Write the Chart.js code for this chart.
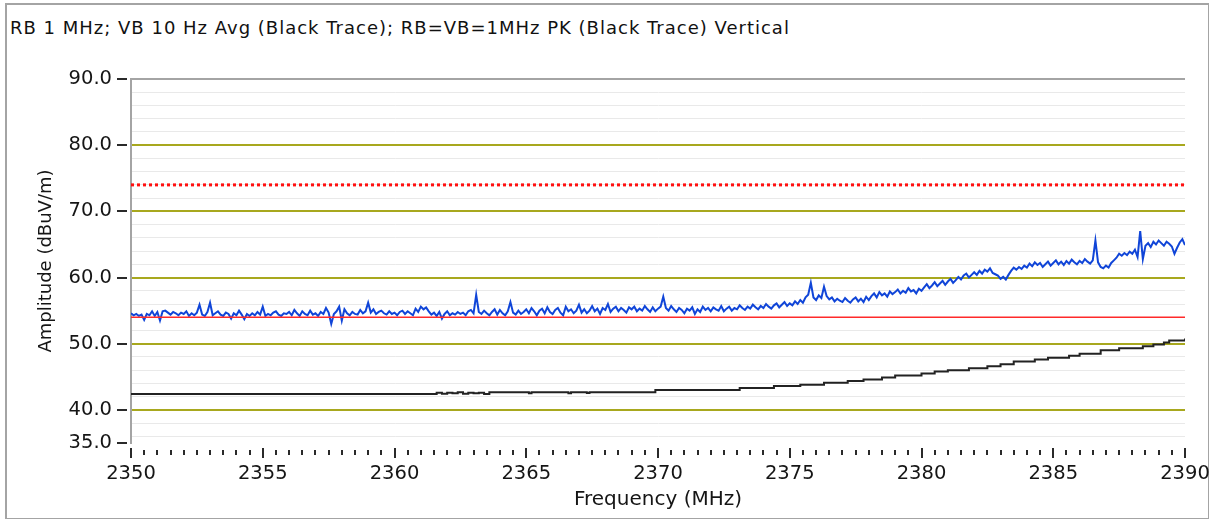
<!DOCTYPE html>
<html>
<head>
<meta charset="utf-8">
<script src="https://cdn.jsdelivr.net/npm/chart.js@4.4.0/dist/chart.umd.min.js"></script>
<style>
  html, body { margin: 0; padding: 0; background: #fff; }
  #wrap { position: relative; width: 1214px; height: 521px; overflow: hidden; background: #fff; }
  #frame { position: absolute; left: 5px; top: 3px; width: 1204px; height: 516px; border: 2px solid #a4a4a4; border-right-width: 1px; border-bottom-width: 1px; box-sizing: border-box; }
  #title { position: absolute; left: 10px; top: 17px; font: 18px "DejaVu Sans"; letter-spacing: 1px; color: #111; white-space: nowrap; }
  canvas { position: absolute; left: 0; top: 0; }
</style>
</head>
<body>
<div id="wrap">
  <div id="frame"></div>
  <div id="title">RB 1 MHz; VB 10 Hz Avg (Black Trace); RB=VB=1MHz PK (Black Trace) Vertical</div>
  <canvas id="c" width="1214" height="521" style="width:1214px;height:521px"></canvas>
</div>
<script>
// Frequency axis (MHz)
const freqMin = 2350;
const freqMax = 2390;
const xLabelValues = [2350, 2355, 2360, 2365, 2370, 2375, 2380, 2385, 2390];
const xMinorStep = 0.5;

// Amplitude axis (dBuV/m)
const ampMin = 35;
const ampMax = 90;
const yLabelValues = [35, 40, 50, 60, 70, 80, 90];
const yMajorGrid = [40, 50, 60, 70, 80];
const yMinorStep = 2;

// Limit lines
const peakLimit = 74;
const avgLimit = 54;

// Peak sweep (blue), sampled every 0.1 MHz from 2350 MHz
const peakStart = 2350;
const peakStep = 0.1;
const peakValues = [
  54.6,54.3,54.5,54.2,54.4,53.6,54.5,54.3,54.9,54.2,
  54.8,53.5,54.9,55.0,54.7,54.4,54.8,54.6,54.3,54.7,
  54.5,54.9,54.2,54.6,54.3,54.7,55.9,54.4,54.2,54.8,
  56.2,54.3,54.6,54.9,54.4,54.2,54.7,54.5,53.8,54.6,
  54.3,55.0,54.4,53.7,54.5,54.2,54.6,54.3,54.8,54.4,
  55.6,54.2,54.5,54.3,54.7,54.9,54.4,54.2,54.6,54.5,
  54.8,54.3,55.1,54.6,54.2,54.9,54.5,54.3,55.0,54.4,
  54.6,54.2,54.8,54.5,55.4,54.7,53.0,54.5,54.9,55.6,
  53.5,55.2,54.6,54.3,54.8,54.5,54.4,55.1,54.6,54.9,
  56.2,54.7,55.2,54.5,54.8,55.0,54.6,54.4,54.9,54.5,
  54.7,54.3,54.8,55.0,54.5,54.9,54.6,54.3,55.3,54.8,
  55.6,55.2,55.5,54.9,54.4,54.7,54.2,54.8,53.8,54.5,
  54.9,54.3,54.6,54.4,54.8,54.5,54.7,54.3,54.9,55.1,
  54.6,57.4,54.8,54.5,55.0,54.6,54.3,54.8,55.2,54.4,
  55.1,54.6,54.3,54.9,56.3,54.7,54.4,55.0,54.5,54.8,
  55.2,54.6,55.4,54.9,54.3,55.0,55.3,54.6,55.5,54.8,
  54.5,55.1,55.4,54.7,54.3,55.6,54.9,55.2,54.6,55.0,
  55.9,54.7,55.2,54.6,55.0,55.7,54.9,55.3,54.5,55.4,
  55.1,56.0,54.8,55.3,55.6,54.9,55.4,55.1,54.7,55.5,
  55.2,55.6,54.9,55.3,55.0,55.7,55.2,54.8,55.5,54.9,
  55.3,55.6,57.1,55.4,55.0,55.7,55.2,54.8,55.4,55.1,
  54.6,55.3,55.0,55.5,54.5,55.2,54.8,55.6,55.1,55.4,
  54.9,55.5,55.2,55.0,55.7,54.9,55.3,55.6,55.0,55.4,
  55.2,55.8,55.4,55.1,55.6,55.3,55.9,55.5,55.2,55.7,
  55.4,56.0,55.6,55.3,55.8,56.1,55.5,55.9,56.3,55.7,
  56.1,55.8,56.4,56.0,56.6,56.2,57.0,57.4,59.2,57.0,
  56.6,57.3,56.9,58.6,57.2,56.7,57.0,56.4,56.8,56.5,
  56.3,56.9,56.5,56.2,56.7,57.0,56.4,56.8,56.3,57.1,
  56.6,57.2,57.6,57.0,57.8,57.3,57.6,57.1,57.9,57.5,
  57.8,58.2,57.6,58.0,57.7,58.4,57.9,58.1,57.6,58.3,
  58.0,58.5,59.0,58.4,58.8,59.3,58.7,59.1,59.5,58.9,
  59.4,59.8,59.2,59.6,60.1,59.7,60.3,60.6,60.0,60.4,
  60.8,60.4,61.0,60.6,61.2,60.9,61.4,60.7,60.5,60.3,
  59.8,60.1,59.7,60.4,61.0,61.5,61.2,61.6,61.3,61.8,
  61.5,62.1,61.7,62.3,61.9,62.2,61.6,62.0,62.4,61.8,
  62.2,62.6,62.0,62.4,61.9,62.5,62.1,62.7,62.3,62.0,
  62.5,62.2,62.8,62.4,62.1,62.6,65.6,62.3,61.6,61.4,
  61.8,61.5,62.2,62.6,63.0,63.6,63.3,63.7,63.4,63.9,
  63.6,64.2,63.1,67.0,62.8,64.8,65.2,64.6,65.4,65.0,
  65.6,65.2,64.8,65.4,65.1,64.7,63.6,64.5,65.3,65.8,
  64.9
];

// Average sweep (black), step corners
const avgFreqs = [
  2350.0, 2361.4, 2361.6, 2361.8, 2362.0, 2362.2, 2362.4, 2362.6, 2362.8, 2363.0,
  2363.2, 2363.4, 2363.6, 2365.1, 2365.2, 2366.6, 2366.7, 2367.3, 2367.4, 2369.9,
  2373.1, 2374.4, 2375.4, 2376.3, 2377.2, 2377.8, 2378.5, 2379.0, 2380.0, 2380.5,
  2381.0, 2381.8, 2382.5, 2383.0, 2383.5, 2384.3, 2384.8, 2385.6, 2386.0, 2386.8,
  2387.5, 2388.4, 2388.8, 2389.2, 2389.4, 2390.0
];
const avgValues = [
  42.4, 42.4, 42.6, 42.45, 42.6, 42.5, 42.65, 42.45, 42.6, 42.5,
  42.6, 42.4, 42.65, 42.5, 42.65, 42.5, 42.65, 42.55, 42.65, 43.0,
  43.3, 43.6, 43.8, 44.1, 44.35, 44.6, 44.9, 45.2, 45.5, 45.8,
  46.0, 46.3, 46.6, 46.9, 47.3, 47.6, 47.9, 48.2, 48.5, 49.0,
  49.3, 49.6, 49.9, 50.2, 50.5, 50.8
];

const FONT = 'DejaVu Sans';
const TEXT = '#151515';

const xTickValues = [];
for (let v = freqMin; v <= freqMax + 1e-9; v += xMinorStep) xTickValues.push(v);
const yGridValues = [ampMin];
for (let v = ampMin + 1; v <= ampMax; v += yMinorStep) yGridValues.push(v);

const peakPoints = peakValues.map((v, i) => ({ x: +(peakStart + i * peakStep).toFixed(2), y: v }));
const avgPoints = avgFreqs.map((f, i) => ({ x: f, y: avgValues[i] }));
const hLine = (v) => [{ x: freqMin, y: v }, { x: freqMax, y: v }];

// Detached tick marks along both axes
const tickMarks = {
  id: 'tickMarks',
  afterDraw(chart) {
    const { ctx, chartArea, scales: { x, y } } = chart;
    ctx.save();
    ctx.strokeStyle = '#2a2a2a';
    ctx.lineWidth = 2;
    ctx.beginPath();
    x.ticks.forEach(t => {
      const px = Math.round(x.getPixelForValue(t.value));
      const major = xLabelValues.includes(t.value);
      ctx.moveTo(px, chartArea.bottom + (major ? 5 : 7));
      ctx.lineTo(px, chartArea.bottom + (major ? 15 : 12));
    });
    yLabelValues.forEach(v => {
      const py = Math.round(y.getPixelForValue(v));
      ctx.moveTo(chartArea.left - 14, py);
      ctx.lineTo(chartArea.left - 4, py);
    });
    ctx.stroke();
    ctx.restore();
  }
};

new Chart(document.getElementById('c'), {
  type: 'line',
  data: {
    datasets: [
      { label: 'Peak limit', data: hLine(peakLimit), borderColor: '#ff1010', borderWidth: 3, borderDash: [3, 3], pointRadius: 0, order: 0 },
      { label: 'Average limit', data: hLine(avgLimit), borderColor: '#ff2a2a', borderWidth: 1.5, pointRadius: 0, order: 1 },
      { label: 'Peak', data: peakPoints, borderColor: '#1045d8', borderWidth: 2, pointRadius: 0, tension: 0, order: 2 },
      { label: 'Average', data: avgPoints, borderColor: '#222222', borderWidth: 2, pointRadius: 0, stepped: true, order: 3 }
    ]
  },
  options: {
    responsive: false,
    animation: false,
    layout: { padding: { top: 79, right: 29, left: 0, bottom: 0 } },
    plugins: { legend: { display: false }, tooltip: { enabled: false }, title: { display: false } },
    scales: {
      x: {
        type: 'linear', min: freqMin, max: freqMax,
        afterBuildTicks: s => { s.ticks = xTickValues.map(v => ({ value: v })); },
        afterFit: s => { s.height = 78; s.paddingLeft = 0; s.paddingRight = 0; },
        grid: { display: false },
        border: { display: false },
        ticks: {
          autoSkip: false, maxRotation: 0, minRotation: 0, padding: 11,
          color: TEXT, font: { family: FONT, size: 19.5 },
          callback: v => xLabelValues.includes(v) ? String(v) : ''
        },
        title: { display: true, text: 'Frequency (MHz)', color: TEXT, font: { family: FONT, size: 20 }, padding: { top: 0, bottom: 9 } }
      },
      y: {
        type: 'linear', min: ampMin, max: ampMax,
        afterBuildTicks: s => { s.ticks = yGridValues.map(v => ({ value: v })); },
        afterFit: s => { s.width = 131; },
        grid: {
          drawTicks: false,
          color: c => {
            const v = c.tick.value;
            if (v === ampMin) return 'rgba(0,0,0,0)';
            if (v === ampMax) return '#a4a4a4';
            if (yMajorGrid.includes(v)) return '#a8a81e';
            return '#e9e9e9';
          },
          lineWidth: c => {
            const v = c.tick.value;
            if (v === ampMax) return 2;
            if (yMajorGrid.includes(v)) return 2;
            return 1;
          }
        },
        border: { display: true, color: '#a4a4a4', width: 2 },
        ticks: {
          autoSkip: false, padding: 19,
          color: TEXT, font: { family: FONT, size: 19.5 },
          callback: v => yLabelValues.includes(v) ? v.toFixed(1) : ''
        },
        title: { display: true, text: 'Amplitude (dBuV/m)', color: TEXT, font: { family: FONT, size: 18 }, padding: { top: 36, bottom: 0 } }
      }
    }
  },
  plugins: [tickMarks]
});
</script>
</body>
</html>
